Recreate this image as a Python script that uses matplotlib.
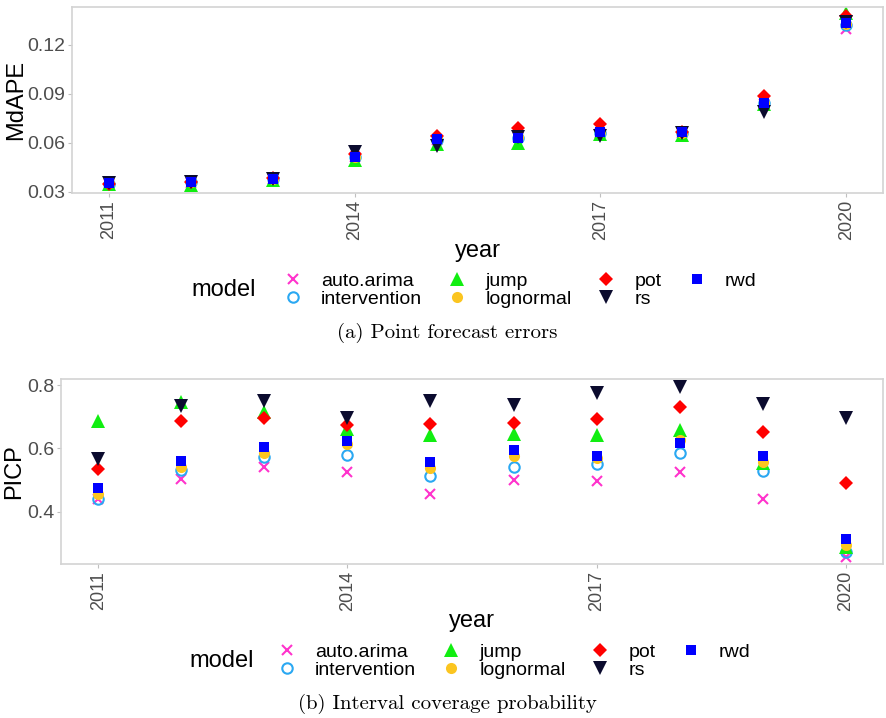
import matplotlib
matplotlib.use("Agg")
import matplotlib.pyplot as plt

plt.rcParams['font.family'] = ['Liberation Sans', 'DejaVu Sans']

years = [2011, 2012, 2013, 2014, 2015, 2016, 2017, 2018, 2019, 2020]
models = ['auto.arima', 'intervention', 'jump', 'lognormal', 'pot', 'rs', 'rwd']

# MdAPE (point forecast errors)
mdape_auto_arima   = [0.0345, 0.0355, 0.0375, 0.0510, 0.0615, 0.0635, 0.0660, 0.0660, 0.0840, 0.1300]
mdape_intervention = [0.0350, 0.0358, 0.0378, 0.0512, 0.0620, 0.0632, 0.0662, 0.0662, 0.0842, 0.1320]
mdape_jump         = [0.0350, 0.0340, 0.0370, 0.0495, 0.0595, 0.0600, 0.0655, 0.0650, 0.0835, 0.1395]
mdape_lognormal    = [0.0352, 0.0360, 0.0380, 0.0512, 0.0622, 0.0635, 0.0665, 0.0663, 0.0845, 0.1330]
mdape_pot          = [0.0350, 0.0362, 0.0385, 0.0530, 0.0640, 0.0692, 0.0716, 0.0668, 0.0885, 0.1375]
mdape_rs           = [0.0355, 0.0358, 0.0380, 0.0545, 0.0580, 0.0637, 0.0642, 0.0660, 0.0790, 0.1340]
mdape_rwd          = [0.0356, 0.0360, 0.0380, 0.0515, 0.0625, 0.0630, 0.0665, 0.0665, 0.0845, 0.1335]

# PICP (interval coverage probability)
picp_auto_arima   = [0.440, 0.503, 0.541, 0.527, 0.456, 0.501, 0.496, 0.527, 0.440, 0.257]
picp_intervention = [0.440, 0.532, 0.572, 0.580, 0.513, 0.543, 0.551, 0.585, 0.530, 0.275]
picp_jump         = [0.688, 0.747, 0.716, 0.660, 0.643, 0.646, 0.643, 0.658, 0.553, 0.291]
picp_lognormal    = [0.457, 0.543, 0.587, 0.615, 0.538, 0.576, 0.570, 0.628, 0.558, 0.296]
picp_pot          = [0.535, 0.687, 0.695, 0.674, 0.676, 0.681, 0.692, 0.730, 0.653, 0.490]
picp_rs           = [0.566, 0.734, 0.751, 0.695, 0.750, 0.737, 0.774, 0.793, 0.739, 0.697]
picp_rwd          = [0.475, 0.562, 0.606, 0.624, 0.557, 0.595, 0.576, 0.616, 0.576, 0.314]

mdape = [mdape_auto_arima, mdape_intervention, mdape_jump, mdape_lognormal,
         mdape_pot, mdape_rs, mdape_rwd]
picp = [picp_auto_arima, picp_intervention, picp_jump, picp_lognormal,
        picp_pot, picp_rs, picp_rwd]

styles = {
    'auto.arima':   dict(marker='x', ms=7.5, color='#ff33cc', mew=1.5),
    'intervention': dict(marker='o', ms=7.5, mfc='none', mec='#2aa8f2', mew=1.5),
    'jump':         dict(marker='^', ms=10.5, color='#11ee11', mew=0),
    'lognormal':    dict(marker='o', ms=8, color='#fbc520', mew=0),
    'pot':          dict(marker='D', ms=7.2, color='#ff0000', mew=0),
    'rs':           dict(marker='v', ms=10.5, color='#0b0b2e', mew=0),
    'rwd':          dict(marker='s', ms=7.8, color='#0000ff', mew=0),
}

W, H = 887, 718
fig = plt.figure(figsize=(W / 100, H / 100), dpi=100)


def px_axes(left, top, right, bottom):
    return fig.add_axes([left / W, 1 - bottom / H, (right - left) / W, (bottom - top) / H])


def draw_panel(ax, series, ylabel, yticks, ylim, ylab_x):
    for name, vals in zip(models, series):
        ax.plot(years, vals, ls='none', label=name, **styles[name])
    ax.set_xlim(2010.55, 2020.45)
    ax.set_ylim(*ylim)
    ax.set_xticks([2011, 2014, 2017, 2020])
    ax.set_xticklabels(['2011', '2014', '2017', '2020'], rotation=90, fontsize=13)
    ax.set_yticks(yticks)
    ax.tick_params(axis='y', labelsize=14)
    ax.tick_params(colors='#c0c0c0', labelcolor='#4d4d4d', length=3, width=0.8, pad=2)
    for s in ax.spines.values():
        s.set_color('#d3d3d3')
        s.set_linewidth(1.2)
    ax.set_ylabel(ylabel, fontsize=17)
    ax.yaxis.set_label_coords(ylab_x, 0.5)
    ax.set_xlabel('year', fontsize=17)
    ax.xaxis.set_label_coords(0.5, -0.25)


ax1 = px_axes(72, 7, 883, 193)
draw_panel(ax1, mdape, 'MdAPE', [0.03, 0.06, 0.09, 0.12], (0.0292, 0.1433), -0.055)
ax1.set_yticklabels(['0.03', '0.06', '0.09', '0.12'])

ax2 = px_axes(61, 379, 883, 564)
draw_panel(ax2, picp, 'PICP', [0.4, 0.6, 0.8], (0.236, 0.819), -0.044)
ax2.set_yticklabels(['0.4', '0.6', '0.8'])


def add_legend(ax, left_px, cy_px, title_x_px):
    h, l = ax.get_legend_handles_labels()
    leg = ax.legend(h, l, loc='center left', bbox_to_anchor=(left_px / W, 1 - cy_px / H),
                    bbox_transform=fig.transFigure, ncol=4, frameon=False,
                    fontsize=14, handlelength=1.0, handletextpad=0.95,
                    columnspacing=1.3, labelspacing=0.05, borderpad=0,
                    borderaxespad=0)
    fig.text(title_x_px / W, 1 - cy_px / H, 'model', fontsize=17, va='center', ha='left')
    return leg


add_legend(ax1, 283, 290, 191)
add_legend(ax2, 277, 661, 189)

fig.text(447 / W, 1 - 333 / H, '(a) Point forecast errors', family='cmr10',
         fontsize=15, ha='center', va='center')
fig.text(447 / W, 1 - 704 / H, '(b) Interval coverage probability', family='cmr10',
         fontsize=15, ha='center', va='center')

fig.savefig('out.png', dpi=100)
